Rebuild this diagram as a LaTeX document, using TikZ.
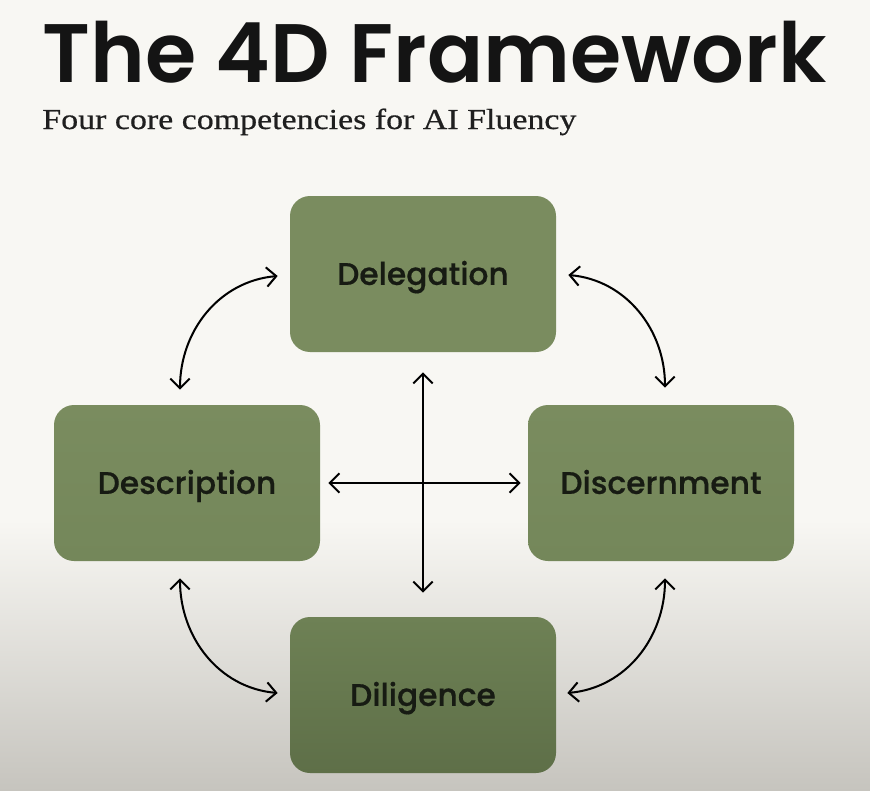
\documentclass[tikz,border=0pt]{standalone}
\usepackage{fontspec}
\setmainfont{Liberation Serif}
\newfontfamily\subfont{Liberation Serif}[FakeStretch=1.17,FakeBold=0.6]
\newfontfamily\titlefont{Poppins SemiBold}
\newfontfamily\labelfont{Poppins Medium}[FakeBold=0.5]
\usetikzlibrary{arrows.meta,calc}
\definecolor{bgtop}{HTML}{F8F7F3}
\definecolor{bgbot}{HTML}{C6C4BE}
\definecolor{boxg}{HTML}{7A8C5F}
\definecolor{boxg2}{HTML}{74875A}
\definecolor{boxg3}{HTML}{6E8155}
\definecolor{boxg4}{HTML}{5E6F48}
\definecolor{ink}{HTML}{171B13}
\tikzset{
  card/.style={rounded corners=20*0.02cm, minimum width=266*0.02cm, minimum height=156*0.02cm,
    inner sep=0pt, text height=12.4pt, text depth=0pt,
    font=\labelfont\fontsize{17.8}{20}\selectfont, text=ink},
  link/.style={line width=1.15pt, black, {Straight Barb[length=5.5pt,width=11pt]}-{Straight Barb[length=5.5pt,width=11pt]}}
}
\begin{document}
\begin{tikzpicture}[x=0.02cm,y=-0.02cm]
\useasboundingbox (0,0) rectangle (870,791);
\fill[bgtop] (0,0) rectangle (870,521);
\shade[top color=bgtop, bottom color=bgbot] (0,520) rectangle (870,791);
\node[anchor=base west, inner sep=0pt, text depth=0pt, font=\titlefont\fontsize{47.2}{50}\selectfont, text=black!92] (title) at (42,82) {The 4D Framework};
\node[anchor=base west, inner sep=0pt, font=\subfont\fontsize{16.5}{20}\selectfont, text=black!88] (sub) at (42,129) {Four core competencies for AI Fluency};
\node[card, fill=boxg] (dele) at (423,274) {Delegation};
\node[card, top color=boxg, bottom color=boxg2] (desc) at (187,483) {Description};
\node[card, top color=boxg, bottom color=boxg2] (disc) at (661,483) {Discernment};
\node[card, top color=boxg3, bottom color=boxg4] (dili) at (423,695) {Diligence};
\draw[link] ($(desc.north)+(-7,-15)$) to[out=90,in=185] ($(dele.west)+(-12,2)$);
\draw[link] ($(dele.east)+(12,1)$) to[out=-5,in=90] ($(disc.north)+(4,-17)$);
\draw[link] ($(desc.south)+(-7,17)$) to[out=-90,in=175] ($(dili.west)+(-12,-2)$);
\draw[link] ($(disc.south)+(4,17)$) to[out=-90,in=5] ($(dili.east)+(11,-2)$);
\draw[link] ($(dele.south)+(0,20)$) -- ($(dili.north)+(0,-24)$);
\draw[link] ($(desc.east)+(8,0)$) -- ($(disc.west)+(-7,0)$);
\end{tikzpicture}
\end{document}
